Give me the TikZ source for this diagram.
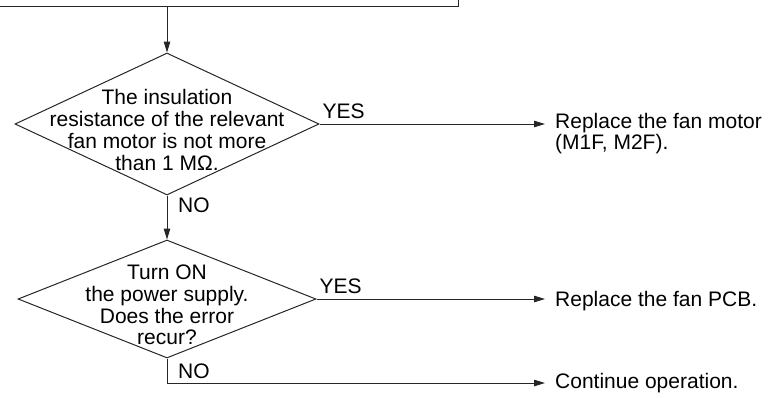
\documentclass[tikz,border=0pt]{standalone}
\usepackage{fontspec}
\setmainfont{Liberation Sans}
\usetikzlibrary{shapes.geometric,arrows.meta}

\begin{document}
\begin{tikzpicture}[x=1pt,y=1pt,font=\fontsize{21}{21.7}\selectfont,
    flow/.style={draw=black!85,line width=1pt},
    arr/.style={flow,-{Triangle[length=11pt,width=6.5pt]}},
    check/.style={diamond,draw=black!85,line width=1pt,inner sep=0pt},
    tag/.style={anchor=base west,inner sep=0pt},
    result/.style={anchor=west,align=left,inner xsep=10pt,inner ysep=0pt}]
    \useasboundingbox (0,0) rectangle (770,-397);
    \clip (0,0) rectangle (770,-397);

    % Previous step, cut off at the top edge.
    \node[draw=black!85,line width=1.3pt,minimum width=500,minimum height=40,anchor=south east] (prev) at (459,-7) {};

    % Decision steps.
    \node[check,minimum width=304,minimum height=142] (d1) at (167,-124) {};
    \node[align=center] (q1) at (167,-130) {The insulation\\resistance of the relevant\\fan motor is not more\\than 1 MΩ.};
    \node[check,minimum width=298,minimum height=118] (d2) at (167,-299) {};
    \node[align=center] (q2) at (167,-305) {Turn ON\\the power supply.\\Does the error\\recur?};

    % Outcomes.
    \node[result] (r1) at (545,-133.5) {Replace the fan motor\\(M1F, M2F).};
    \node[result] (r2) at (545,-301) {Replace the fan PCB.};
    \node[result] (r3) at (545,-383) {Continue operation.};

    % Connectors and branch labels.
    \draw[arr] (prev.south -| d1.north) -- (d1.north);
    \draw[arr] (d1.east) -- (d1.east -| r1.west);
    \draw[arr] (d1.south) -- (d2.north);
    \draw[arr] (d2.east) -- (d2.east -| r2.west);
    \draw[arr] (d2.south) |- (r3.west);
    \node[tag] (yes1) at ([shift={(3,5.5)}]d1.east) {YES};
    \node[tag] (no1) at ([shift={(11,-17)}]d1.south) {NO};
    \node[tag] (yes2) at ([shift={(3,5.5)}]d2.east) {YES};
    \node[tag] (no2) at ([shift={(11,-20)}]d2.south) {NO};
\end{tikzpicture}
\end{document}
